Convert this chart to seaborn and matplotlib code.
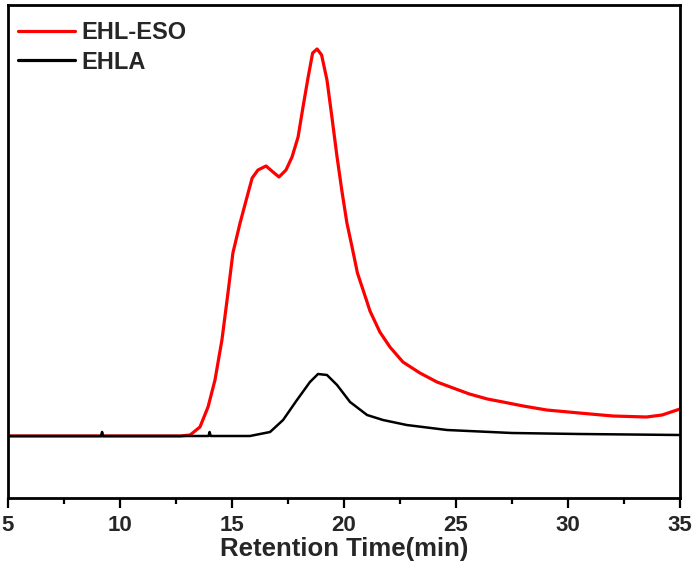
import matplotlib
matplotlib.use("Agg")
import matplotlib.pyplot as plt
import seaborn as sns
import pandas as pd
from matplotlib.ticker import MultipleLocator

sns.set_theme(style="ticks")
plt.rcParams['font.family'] = ['Liberation Sans', 'DejaVu Sans']

# Retention time (min) and detector signal (arbitrary units)
red_time = [5, 12.68, 13.13, 13.57, 13.93, 14.24, 14.55, 14.82, 15.04, 15.36, 15.67,
            15.9, 16.16, 16.52, 16.83, 17.1, 17.41, 17.68, 17.95, 18.17, 18.4, 18.6,
            18.8, 19.0, 19.24, 19.46, 19.69, 19.9, 20.13, 20.36, 20.6, 21.0, 21.16,
            21.6, 22.05, 22.63, 23.39, 24.15, 24.87, 25.6, 26.4, 27.1, 28.0, 29.05,
            30.5, 32.0, 33.5, 34.2, 35]
red_signal = [62, 62, 63, 71, 91, 118, 158, 205, 245, 275, 301,
              320, 328, 332, 326, 321, 328, 341, 361, 391, 421, 445,
              449, 443, 418, 381, 341, 308, 275, 251, 225, 198, 187,
              166, 151, 136, 125, 116, 110, 104, 99, 96, 92, 88,
              85, 82, 81, 83, 89]

black_time = [5, 9.15, 9.2, 9.25, 13.95, 14.0, 14.05, 15.8, 16.7, 17.28, 17.9, 18.48,
              18.84, 19.24, 19.69, 20.27, 21.03, 21.74, 22.8, 24.6, 27.5, 30.5, 35]
black_signal = [62, 62, 66, 62, 62, 66, 62, 62, 66, 78, 98, 116,
                124, 123, 113, 96, 83, 78, 73, 68, 65, 64, 63]

series_names = ["EHL-ESO", "EHLA"]

df = pd.concat([
    pd.DataFrame({"time": red_time, "signal": red_signal, "sample": series_names[0]}),
    pd.DataFrame({"time": black_time, "signal": black_signal, "sample": series_names[1]}),
])

fig = plt.figure(figsize=(6.96, 5.72), dpi=100)
ax = fig.add_axes([8/696, 74/572, 672/696, 493/572])

sns.lineplot(data=df, x="time", y="signal", hue="sample", sort=False,
             palette={"EHL-ESO": "#ff0000", "EHLA": "#000000"},
             ax=ax, legend=True)
for line, lw in zip(ax.lines, [2.3, 1.8]):
    line.set_linewidth(lw)
    line.set_solid_joinstyle("round")

ax.set_xlim(5, 35)
ax.set_ylim(0, 493)
ax.set_yticks([])
ax.set_ylabel("")
ax.xaxis.set_major_locator(MultipleLocator(5))
ax.xaxis.set_minor_locator(MultipleLocator(2.5))
ax.tick_params(axis="x", which="major", direction="out", length=7, width=1.6,
               labelsize=16, pad=5, color="black")
ax.tick_params(axis="x", which="minor", direction="out", length=4, width=1.6, color="black")
for lab in ax.get_xticklabels():
    lab.set_fontweight("bold")
for sp in ax.spines.values():
    sp.set_visible(True)
    sp.set_linewidth(2)
    sp.set_color("black")

ax.set_xlabel("Retention Time(min)", fontsize=18.5, fontweight="bold", labelpad=1)

leg = ax.legend(loc="upper left", bbox_to_anchor=(0.0149, 0.9675), frameon=False,
                handlelength=2.4, handletextpad=0.3, labelspacing=0.28,
                borderaxespad=0, borderpad=0,
                prop={"weight": "bold", "size": 17})
for h in leg.get_lines():
    h.set_linewidth(2.3)

fig.savefig("out.png", dpi=100, facecolor="white")
